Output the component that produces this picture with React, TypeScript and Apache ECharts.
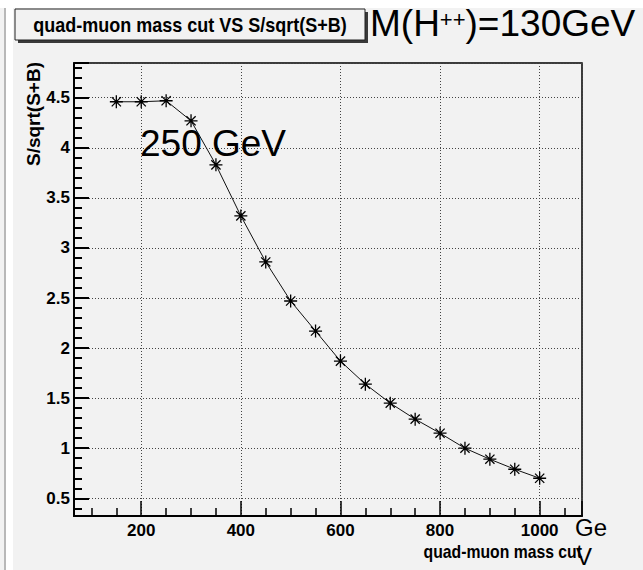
import React, { useEffect, useRef } from "react";
import * as echarts from "echarts";

const X_VALUES = [150, 200, 250, 300, 350, 400, 450, 500, 550, 600, 650, 700, 750, 800, 850, 900, 950, 1000];
const Y_VALUES = [4.46, 4.46, 4.47, 4.27, 3.83, 3.32, 2.86, 2.47, 2.17, 1.87, 1.64, 1.45, 1.29, 1.15, 1.0, 0.89, 0.79, 0.7];
const X_RANGE = [65, 1085];
const Y_RANGE = [0.323, 4.847];

const TITLE = "quad-muon mass cut VS S/sqrt(S+B)";
const X_TITLE = "quad-muon mass cut";
const Y_TITLE = "S/sqrt(S+B)";
const ANNOT = "250 GeV";
const UNIT_1 = "Ge";
const UNIT_2 = "V";

const SANS = "'Liberation Sans', Arial, sans-serif";
const BG = "#f2f2f2";

const STAR =
  "path://M10.8 0 L13.2 0 L13.2 24 L10.8 24 Z M0 10.8 L24 10.8 L24 13.2 L0 13.2 Z " +
  "M2.65 4.35 L4.35 2.65 L21.35 19.65 L19.65 21.35 Z M19.65 2.65 L21.35 4.35 L4.35 21.35 L2.65 19.65 Z " +
  "M10 10 L14 10 L14 14 L10 14 Z";

const plainNumber = (v: number) => String(Math.round(v * 100) / 100);

export default function App() {
  const ref = useRef<HTMLDivElement>(null);
  useEffect(() => {
    if (!ref.current) return;
    const chart = echarts.init(ref.current, undefined, { renderer: "svg" });
    const data = X_VALUES.map((x, i) => [x, Y_VALUES[i]]);
    chart.setOption({
      animation: false,
      backgroundColor: BG,
      grid: {
        left: 74,
        top: 63,
        width: 508,
        height: 453,
        show: true,
        backgroundColor: "transparent",
        borderColor: "#000",
        borderWidth: 1.5,
      },
      xAxis: {
        type: "value",
        min: X_RANGE[0],
        max: X_RANGE[1],
        splitNumber: 5,
        axisLine: { show: true, onZero: false, lineStyle: { color: "#000", width: 2 } },
        axisTick: { show: true, inside: true, length: 15, lineStyle: { color: "#000", width: 1.5 } },
        minorTick: { show: true, splitNumber: 4, length: 8, lineStyle: { color: "#000", width: 1.5 } },
        axisLabel: {
          showMinLabel: false,
          showMaxLabel: false,
          margin: 6,
          color: "#000",
          fontFamily: SANS,
          fontWeight: "bold",
          fontSize: 17,
          formatter: plainNumber,
        },
        splitLine: { show: true, lineStyle: { color: "#444", width: 1, type: [1, 2] } },
      },
      yAxis: {
        type: "value",
        min: Y_RANGE[0],
        max: Y_RANGE[1],
        splitNumber: 9,
        axisLine: { show: true, onZero: false, lineStyle: { color: "#000", width: 2 } },
        axisTick: { show: true, inside: true, length: 15, lineStyle: { color: "#000", width: 2 } },
        minorTick: { show: true, splitNumber: 5, length: 8, lineStyle: { color: "#000", width: 2 } },
        axisLabel: {
          showMinLabel: false,
          showMaxLabel: false,
          margin: 4,
          color: "#000",
          fontFamily: SANS,
          fontWeight: "bold",
          fontSize: 17,
          formatter: plainNumber,
        },
        splitLine: { show: true, lineStyle: { color: "#444", width: 1, type: [1, 2] } },
      },
      series: [
        {
          type: "line",
          data,
          symbol: STAR,
          symbolSize: 13,
          showAllSymbol: true,
          lineStyle: { color: "#111", width: 1 },
          itemStyle: { color: "#000" },
          z: 5,
        },
      ],
      graphic: [
        { type: "rect", z: -10, shape: { x: 0, y: 0, width: 643, height: 8 }, style: { fill: "#ffffff" } },
        { type: "rect", z: -10, shape: { x: 6, y: 8, width: 7, height: 562 }, style: { fill: "#ffffff" } },
        { type: "rect", z: -10, shape: { x: 4, y: 8, width: 2, height: 562 }, style: { fill: "#b8b8b8" } },
        { type: "rect", z: 10, shape: { x: 18, y: 12, width: 350, height: 31 }, style: { fill: "#3a3a3a" } },
        { type: "rect", z: 11, shape: { x: 15, y: 9, width: 350, height: 31 }, style: { fill: BG, stroke: "#222", lineWidth: 1 } },
        {
          type: "text",
          z: 12,
          x: 190,
          y: 25,
          scaleX: 0.9,
          style: { text: TITLE, fill: "#000", font: `bold 20px ${SANS}`, align: "center", verticalAlign: "middle" },
        },
        {
          type: "text",
          z: 12,
          x: 370,
          y: 23,
          style: {
            text: "{m|M(H}{s|++}{m|)=130GeV}",
            fill: "#000",
            align: "left",
            verticalAlign: "middle",
            rich: {
              m: { fontFamily: SANS, fontSize: 37, lineHeight: 29, fill: "#000" },
              s: { fontFamily: SANS, fontSize: 22, lineHeight: 22, verticalAlign: "top", fill: "#000" },
            },
          },
        },
        {
          type: "text",
          z: 12,
          x: 140,
          y: 143,
          style: { text: ANNOT, fill: "#000", font: `37px ${SANS}`, align: "left", verticalAlign: "middle" },
        },
        {
          type: "text",
          z: 12,
          x: 575,
          y: 527,
          style: { text: UNIT_1, fill: "#000", font: `24px ${SANS}`, align: "left", verticalAlign: "middle" },
        },
        {
          type: "text",
          z: 12,
          x: 582,
          y: 551,
          scaleX: 0.83,
          style: { text: X_TITLE, fill: "#000", font: `bold 19px ${SANS}`, align: "right", verticalAlign: "middle" },
        },
        {
          type: "text",
          z: 13,
          x: 576,
          y: 556,
          style: { text: UNIT_2, fill: "#000", font: `24px ${SANS}`, align: "left", verticalAlign: "middle" },
        },
        {
          type: "text",
          z: 12,
          x: 33,
          y: 114,
          rotation: Math.PI / 2,
          style: { text: Y_TITLE, fill: "#000", font: `bold 19px ${SANS}`, align: "center", verticalAlign: "middle" },
        },
      ],
    });
    return () => chart.dispose();
  }, []);
  return <div ref={ref} style={{ position: "absolute", left: 0, top: 0, width: 643, height: 570 }} />;
}
